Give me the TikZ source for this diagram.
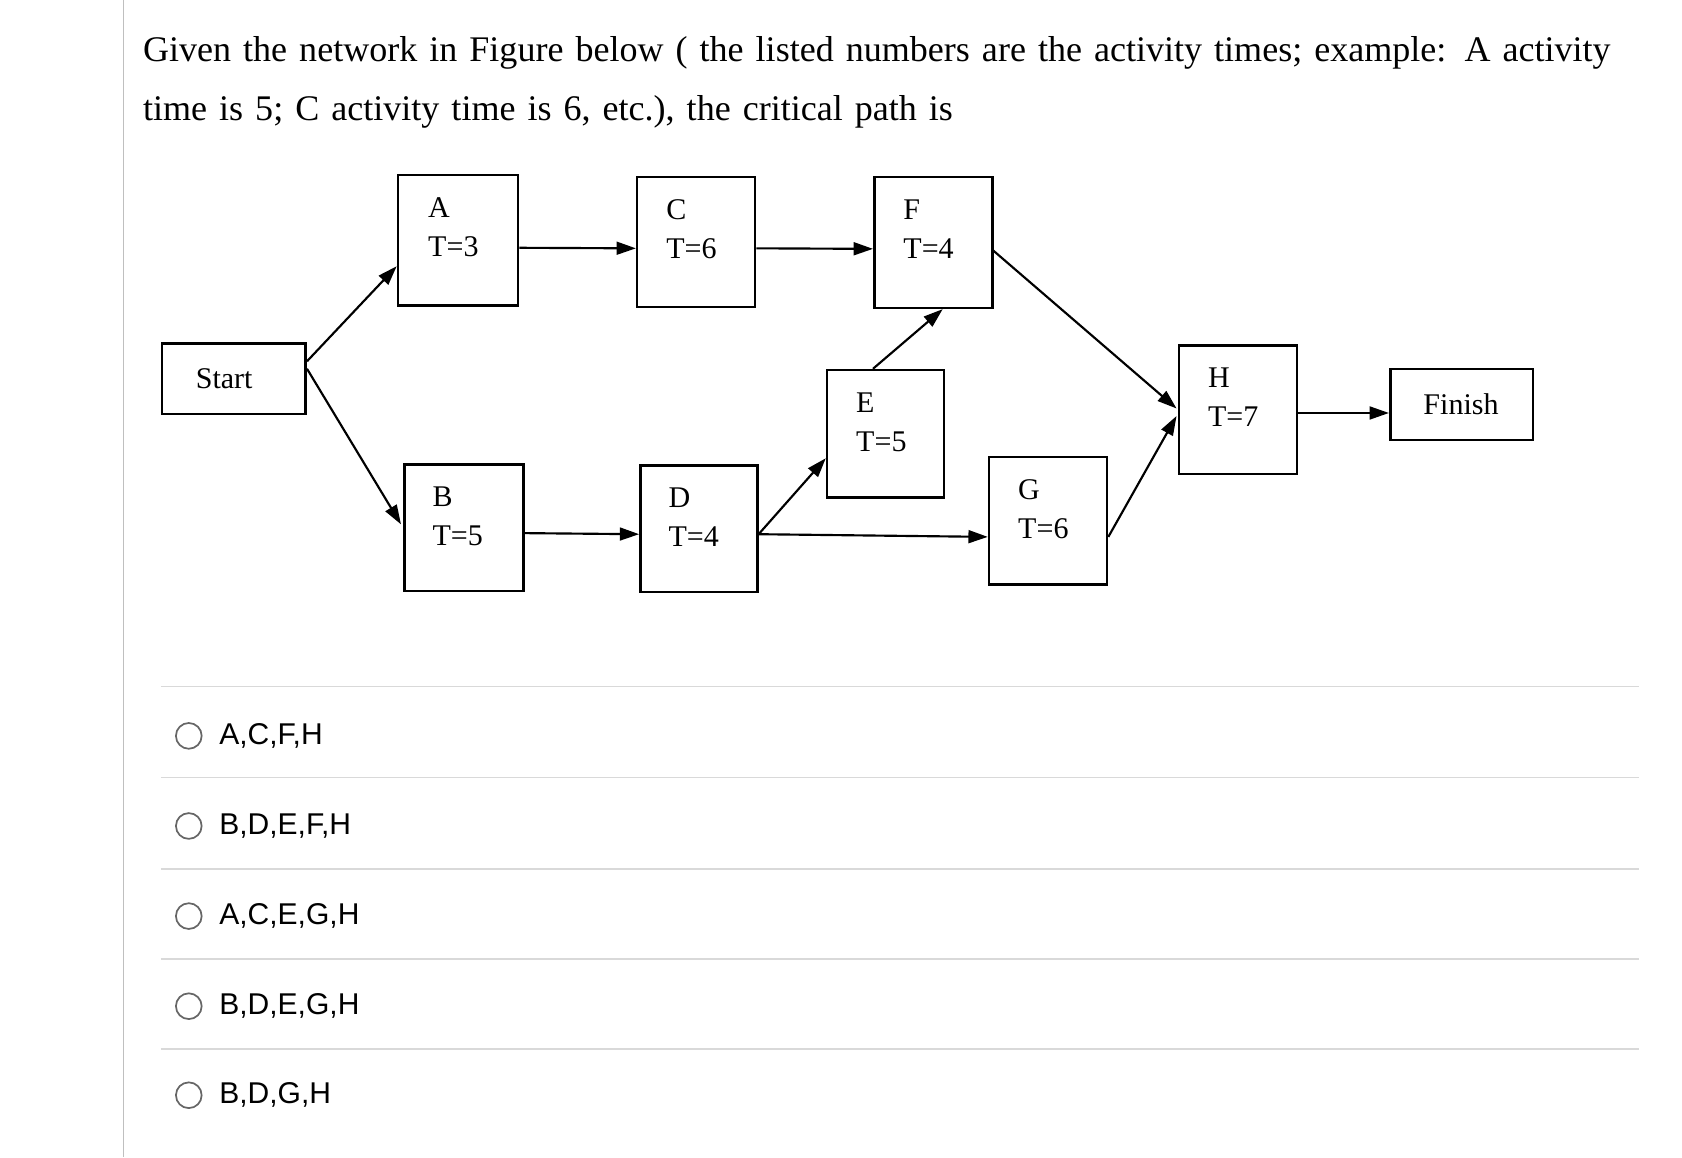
\documentclass[tikz,border=0pt]{standalone}
\usepackage{fontspec}
\setmainfont{Liberation Serif}
\newfontfamily\optfont{Liberation Sans}
\usetikzlibrary{arrows.meta,calc}
\begin{document}
\begin{tikzpicture}[x=0.5pt,y=-0.5pt,
  box/.style={draw,line width=1.2pt,inner sep=0pt},
  lbl/.style={anchor=north west,align=left,font=\fontsize{14}{18}\selectfont,inner sep=0pt},
  arr/.style={line width=1pt,-{Triangle[length=9pt,width=6pt]}},
  sep/.style={draw=black!15,line width=0.6pt},
  opt/.style={anchor=west,font=\optfont\fontsize{14}{16}\selectfont,inner sep=0pt}]
\fill[white] (0,0) rectangle (1568,1079);
\useasboundingbox (0,0) rectangle (1568,1079);
\draw[black!25,line width=0.8pt] (115,0) -- (115,1079);
\node[anchor=north west,align=left,text width=700pt,font=\fontsize{16.8}{27.5}\selectfont,inner sep=0pt] (title) at (133,34)
 {Given the network in Figure below ( the listed numbers are the activity times; example: A activity time is 5; C activity time is 6, etc.), the critical path is};
% boxes
\node[box,minimum width=56pt,minimum height=61pt] (A) at (427,224) {};
\node[box,minimum width=55pt,minimum height=60.5pt] (C) at (649,225.5) {};
\node[box,minimum width=55pt,minimum height=61pt] (F) at (870,226) {};
\node[box,minimum width=67pt,minimum height=33pt] (S) at (218,353) {};
\node[box,minimum width=54.5pt,minimum height=59.5pt] (E) at (825.5,404.5) {};
\node[box,minimum width=55pt,minimum height=60pt] (H) at (1154,382) {};
\node[box,minimum width=66.5pt,minimum height=33pt] (Fi) at (1362.5,377) {};
\node[box,minimum width=55.5pt,minimum height=59pt] (B) at (432.5,492) {};
\node[box,minimum width=54.5pt,minimum height=59pt] (D) at (651.5,493) {};
\node[box,minimum width=55pt,minimum height=59.5pt] (G) at (977,485.5) {};
% labels
\node[lbl] at ($(A.north west)+(29,22)$) {A\\T=3};
\node[lbl] at ($(C.north west)+(28,22)$) {C\\T=6};
\node[lbl] at ($(F.north west)+(28,22)$) {F\\T=4};
\node[lbl] at ($(E.north west)+(28,22)$) {E\\T=5};
\node[lbl] at ($(H.north west)+(28,22)$) {H\\T=7};
\node[lbl] at ($(B.north west)+(27,22)$) {B\\T=5};
\node[lbl] at ($(D.north west)+(27,22)$) {D\\T=4};
\node[lbl] at ($(G.north west)+(28,22)$) {G\\T=6};
\node[font=\fontsize{14}{16}\selectfont] at (209,353) {Start};
\node[font=\fontsize{14}{16}\selectfont] at (1362,377) {Finish};
% arrows
\draw[arr] ($(S.north east)+(0,18)$) -- ($(A.south west)+(0,-38)$);
\draw[arr] ($(S.north east)+(0,25)$) -- ($(B.north west)+(-2,57)$);
\draw[arr] ($(A.east)+(0,7)$) -- ($(C.west)+(0,6)$);
\draw[arr] ($(C.east)+(0,6)$) -- ($(F.west)+(0,6)$);
\draw[arr] ($(F.north east)+(0,70)$) -- ($(H.north west)+(-1,60)$);
\draw[arr] ($(E.north west)+(44,0)$) -- ($(F.south west)+(65,0)$);
\draw[arr] ($(B.east)+(0,5)$) -- ($(D.west)+(0,5)$);
\draw[arr] ($(D.east)+(0,5)$) -- ($(E.south west)+(0,-38)$);
\draw[arr] ($(D.east)+(0,5)$) -- ($(G.west)+(0,15)$);
\draw[arr] ($(G.east)+(0,15)$) -- ($(H.north west)+(-1,67)$);
\draw[arr] ($(H.east)+(0,3)$) -- ($(Fi.west)+(0,8)$);
% options
\foreach \y in {640,725,810,894,978} \draw[sep] (150,\y) -- (1528,\y);
\foreach \y/\t [count=\i] in {686/{A,C,F,H},770/{B,D,E,F,H},854/{A,C,E,G,H},938/{B,D,E,G,H},1021/{B,D,G,H}} {
  \draw[black!60,line width=0.8pt] (176,\y) circle[radius=12];
  \node[opt] (o\i) at (204,\y) {\t};
}
\end{tikzpicture}
\end{document}
